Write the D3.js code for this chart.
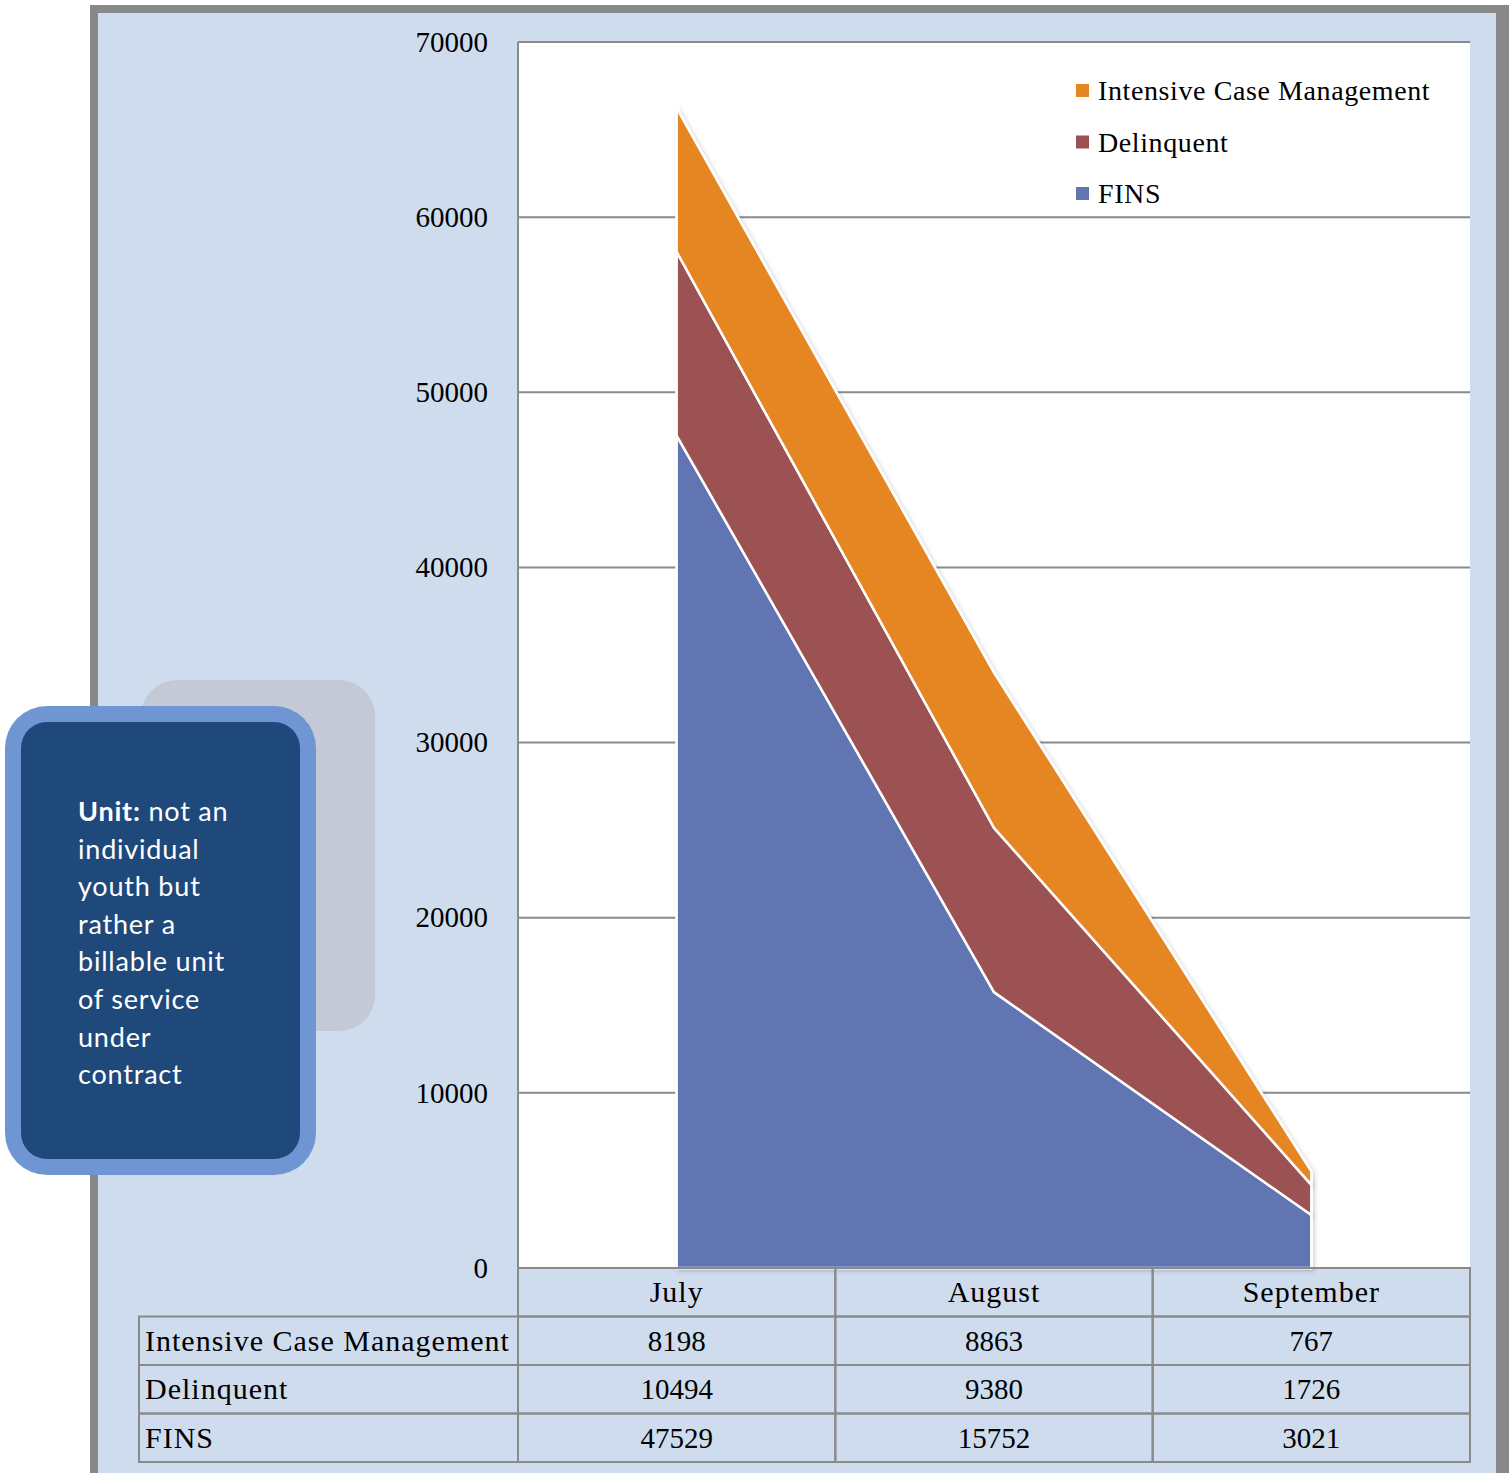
<!DOCTYPE html>
<html><head><meta charset="utf-8">
<script src="https://cdn.jsdelivr.net/npm/d3@7"></script>
<style>
html,body{margin:0;padding:0;background:#fff;}
svg{display:block;}
</style></head>
<body>
<svg id="chart" width="1509" height="1473"></svg>
<script>
const categories = ["July", "August", "September"];
const seriesNames = ["FINS", "Delinquent", "Intensive Case Management"];
const fins = [47529, 15752, 3021];
const delinquent = [10494, 9380, 1726];
const icm = [8198, 8863, 767];
const yTicks = [0, 10000, 20000, 30000, 40000, 50000, 60000, 70000];
const tableRows = ["Intensive Case Management", "Delinquent", "FINS"];
const calloutLines = ["not an", "individual", "youth but", "rather a", "billable unit", "of service", "under", "contract"];

const colors = {"FINS":"#6175b3", "Delinquent":"#9c5252", "Intensive Case Management":"#e58623"};
const serif = "'Palatino Linotype','Book Antiqua',Palatino,'Liberation Serif','DejaVu Serif',serif";

const svg = d3.select("#chart");
// background frame
svg.append("rect").attr("x",90).attr("y",5).attr("width",1430).attr("height",1480).attr("fill","#888");
svg.append("rect").attr("x",98).attr("y",13).attr("width",1398).attr("height",1470).attr("fill","#cfdcee");

const plot = {left:518, right:1470, top:42, bottom:1268};
const x = d3.scaleBand().domain(categories).range([plot.left, plot.right]);
const y = d3.scaleLinear().domain([0,70000]).range([plot.bottom, plot.top]);

svg.append("rect").attr("x",plot.left).attr("y",plot.top).attr("width",plot.right-plot.left).attr("height",plot.bottom-plot.top).attr("fill","#fff");

// grid
svg.append("g").selectAll("line").data(yTicks).join("line")
  .attr("x1",plot.left).attr("x2",plot.right)
  .attr("y1",d=>y(d)).attr("y2",d=>y(d))
  .attr("stroke","#8a8a8a").attr("stroke-width",2);
svg.append("line").attr("x1",plot.left).attr("x2",plot.left).attr("y1",plot.top).attr("y2",plot.bottom).attr("stroke","#8a8a8a").attr("stroke-width",2);

// y axis labels
const yAxis = d3.axisLeft(y).tickValues(yTicks).tickSize(0).tickPadding(30).tickFormat(d3.format("d"));
const ya = svg.append("g").attr("transform",`translate(${plot.left},0)`).call(yAxis);
ya.select(".domain").remove();
ya.selectAll("text").attr("font-family",serif).attr("font-size",29).attr("fill","#000");

// stacked area
const rows = categories.map((c,i)=>({cat:c, "FINS":fins[i], "Delinquent":delinquent[i], "Intensive Case Management":icm[i]}));
const stack = d3.stack().keys(seriesNames)(rows);
const cx = d => x(d.data.cat) + x.bandwidth()/2;
const area = d3.area().x(cx).y0(d=>y(d[0])).y1(d=>y(d[1]));
const defs = svg.append("defs");
const f = defs.append("filter").attr("id","sh").attr("x","-10%").attr("y","-10%").attr("width","120%").attr("height","120%");
f.append("feDropShadow").attr("dx",2).attr("dy",2).attr("stdDeviation",2).attr("flood-color","#000").attr("flood-opacity",0.18);
const ag = svg.append("g");
ag.selectAll("path").data(stack).join("path")
  .attr("d",area)
  .attr("fill",d=>colors[d.key])
  .attr("stroke","#fff").attr("stroke-width",2.5).attr("stroke-linejoin","round")
  .attr("filter","url(#sh)");
ag.selectAll("path.top").data(stack).join("path").attr("class","top")
  .attr("d",area).attr("fill",d=>colors[d.key])
  .attr("stroke","#fff").attr("stroke-width",2.5).attr("stroke-linejoin","round");

// legend
const legendItems = ["Intensive Case Management","Delinquent","FINS"];
const lg = svg.append("g");
legendItems.forEach((k,i)=>{
  const yy = 91 + i*51.5;
  lg.append("rect").attr("x",1076).attr("y",yy-7).attr("width",13).attr("height",13).attr("fill",colors[k]);
  lg.append("text").attr("x",1098).attr("y",yy+9).attr("font-family",serif).attr("font-size",28)
    .attr("letter-spacing",0.6).attr("fill","#000").text(k);
});

// data table
const tbl = svg.append("g");
const rowH = 48.5;
const tableTop = plot.bottom;
const labelLeft = 139;
categories.forEach(c=>{
  tbl.append("rect").attr("x",x(c)).attr("y",tableTop).attr("width",x.bandwidth()).attr("height",rowH)
    .attr("fill","none").attr("stroke","#8a8a8a").attr("stroke-width",2);
  tbl.append("text").attr("x",x(c)+x.bandwidth()/2).attr("y",tableTop+rowH/2+10).attr("text-anchor","middle")
    .attr("font-family",serif).attr("font-size",30).attr("letter-spacing",1).text(c);
});
const valuesByRow = {"Intensive Case Management":icm, "Delinquent":delinquent, "FINS":fins};
tableRows.forEach((r,ri)=>{
  const ry = tableTop + rowH*(ri+1);
  tbl.append("rect").attr("x",labelLeft).attr("y",ry).attr("width",plot.left-labelLeft).attr("height",rowH)
    .attr("fill","none").attr("stroke","#8a8a8a").attr("stroke-width",2);
  tbl.append("text").attr("x",labelLeft+6).attr("y",ry+rowH/2+10).attr("font-family",serif).attr("font-size",30)
    .attr("letter-spacing",1).text(r);
  categories.forEach((c,ci)=>{
    tbl.append("rect").attr("x",x(c)).attr("y",ry).attr("width",x.bandwidth()).attr("height",rowH)
      .attr("fill","none").attr("stroke","#8a8a8a").attr("stroke-width",2);
    tbl.append("text").attr("x",x(c)+x.bandwidth()/2).attr("y",ry+rowH/2+10).attr("text-anchor","middle")
      .attr("font-family",serif).attr("font-size",29).text(valuesByRow[r][ci]);
  });
});

// callout
const co = svg.append("g");
co.append("rect").attr("x",141).attr("y",680).attr("width",234).attr("height",351).attr("rx",36).attr("fill","#c3cad6");
co.append("rect").attr("x",5).attr("y",706).attr("width",311).attr("height",469).attr("rx",42).attr("fill","#6f96d2");
co.append("rect").attr("x",21).attr("y",722).attr("width",279).attr("height",437).attr("rx",26).attr("fill","#1f497a");
const sans = "'URW Gothic','Century Gothic','Lato','Open Sans',sans-serif";
calloutLines.forEach((l,i)=>{
  const t = co.append("text").attr("x",78).attr("y",821+i*37.6).attr("font-family",sans).attr("font-size",27)
    .attr("letter-spacing",0.8).attr("fill","#fff");
  if(i===0){ t.append("tspan").attr("font-weight","bold").text("Unit:"); t.append("tspan").text(" "+l); }
  else t.text(l);
});
</script>
</body></html>
